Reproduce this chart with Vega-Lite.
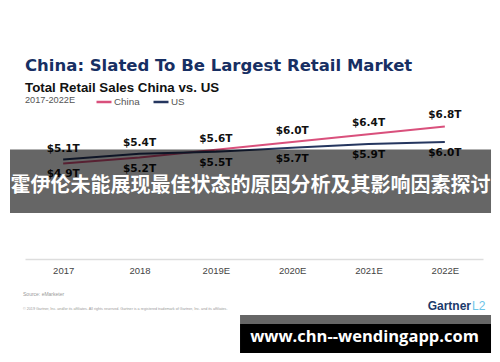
{
  "$schema": "https://vega.github.io/schema/vega-lite/v6.json",
  "width": 458,
  "height": 149,
  "autosize": {"type": "none"},
  "padding": {"left": 25, "top": 110, "right": 17, "bottom": 103},
  "background": "white",
  "config": {"view": {"stroke": null}, "font": "Liberation Sans"},
  "title": {
    "text": "China: Slated To Be Largest Retail Market",
    "subtitle": "Total Retail Sales China vs. US",
    "anchor": "start",
    "frame": "group",
    "font": "DejaVu Sans",
    "fontSize": 16.5,
    "fontWeight": "bold",
    "color": "#172f63",
    "subtitleFont": "Liberation Sans",
    "subtitleFontSize": 13.3,
    "subtitleFontWeight": "bold",
    "subtitleColor": "#111111",
    "subtitlePadding": 6,
    "offset": -1
  },
  "datasets": {
    "sales": [
      {"year": 2017, "series": "China", "value": 4.9, "label": "$4.9T"},
      {"year": 2018, "series": "China", "value": 5.2, "label": "$5.2T"},
      {"year": 2019, "series": "China", "value": 5.6, "label": "$5.6T"},
      {"year": 2020, "series": "China", "value": 6.0, "label": "$6.0T"},
      {"year": 2021, "series": "China", "value": 6.4, "label": "$6.4T"},
      {"year": 2022, "series": "China", "value": 6.8, "label": "$6.8T"},
      {"year": 2017, "series": "US", "value": 5.1, "label": "$5.1T"},
      {"year": 2018, "series": "US", "value": 5.4, "label": "$5.4T"},
      {"year": 2019, "series": "US", "value": 5.5, "label": "$5.5T"},
      {"year": 2020, "series": "US", "value": 5.7, "label": "$5.7T"},
      {"year": 2021, "series": "US", "value": 5.9, "label": "$5.9T"},
      {"year": 2022, "series": "US", "value": 6.0, "label": "$6.0T"}
    ]
  },
  "layer": [
    {
      "data": {"name": "sales"},
      "mark": {"type": "line", "strokeWidth": 2},
      "encoding": {
        "x": {
          "field": "year",
          "type": "quantitative",
          "scale": {"domain": [2016.5, 2022.5], "nice": false, "zero": false},
          "axis": {
            "title": null,
            "values": [2017, 2018, 2019, 2020, 2021, 2022],
            "format": "d",
            "labelExpr": "datum.value >= 2019 ? datum.label + 'E' : datum.label",
            "labelFont": "Liberation Sans",
            "labelFontSize": 9.5,
            "labelColor": "#444444",
            "labelPadding": 6,
            "ticks": false,
            "grid": false,
            "domainColor": "#dddddd",
            "domainWidth": 1.5
          }
        },
        "y": {
          "field": "value",
          "type": "quantitative",
          "scale": {"domain": [0, 7.641], "nice": false, "zero": true},
          "axis": null
        },
        "color": {
          "field": "series",
          "type": "nominal",
          "scale": {"domain": ["China", "US"], "range": ["#d9507c", "#25365f"]},
          "legend": {
            "orient": "none",
            "legendX": 0,
            "legendY": -17,
            "direction": "horizontal",
            "title": "2017-2022E",
            "titleOrient": "left",
            "titleFont": "Liberation Sans",
            "titleFontSize": 9.2,
            "titleFontWeight": "normal",
            "titleColor": "#555555",
            "titlePadding": 19,
            "titleBaseline": "middle",
            "symbolType": "stroke",
            "symbolSize": 225,
            "symbolStrokeWidth": 2.5,
            "labelFont": "Liberation Sans",
            "labelFontSize": 9.8,
            "labelColor": "#555555",
            "labelOffset": 1,
            "columnPadding": 8
          }
        }
      }
    },
    {
      "data": {"name": "sales"},
      "transform": [
        {"joinaggregate": [{"op": "max", "field": "value", "as": "vmax"}], "groupby": ["year"]},
        {"filter": "datum.value == datum.vmax"}
      ],
      "mark": {"type": "text", "font": "DejaVu Sans", "fontWeight": "bold", "fontSize": 10.5, "dy": -11, "color": "#111111", "baseline": "middle"},
      "encoding": {
        "x": {"field": "year", "type": "quantitative"},
        "y": {"field": "value", "type": "quantitative", "axis": null},
        "text": {"field": "label"}
      }
    },
    {
      "data": {"name": "sales"},
      "transform": [
        {"joinaggregate": [{"op": "min", "field": "value", "as": "vmin"}], "groupby": ["year"]},
        {"filter": "datum.value == datum.vmin"}
      ],
      "mark": {"type": "text", "font": "DejaVu Sans", "fontWeight": "bold", "fontSize": 10.5, "dy": 11, "color": "#111111", "baseline": "middle"},
      "encoding": {
        "x": {"field": "year", "type": "quantitative"},
        "y": {"field": "value", "type": "quantitative", "axis": null},
        "text": {"field": "label"}
      }
    },
    {
      "data": {"values": [{"text": "Source: eMarketer"}]},
      "mark": {"type": "text", "fontSize": 5, "color": "#999999", "align": "left", "baseline": "middle"},
      "encoding": {
        "x": {"datum": 2016.474, "type": "quantitative"},
        "y": {"datum": -1.795, "type": "quantitative", "axis": null},
        "text": {"field": "text"}
      }
    },
    {
      "data": {"values": [{"text": "© 2019 Gartner, Inc. and/or its affiliates. All rights reserved. Gartner is a registered trademark of Gartner, Inc. and its affiliates."}]},
      "mark": {"type": "text", "fontSize": 3.7, "color": "#999999", "align": "left", "baseline": "middle"},
      "encoding": {
        "x": {"datum": 2016.474, "type": "quantitative"},
        "y": {"datum": -2.564, "type": "quantitative", "axis": null},
        "text": {"field": "text"}
      }
    },
    {
      "data": {"values": [{"text": "Gartner"}]},
      "mark": {"type": "text", "fontSize": 12, "fontWeight": "bold", "color": "#1b3a6b", "align": "right", "baseline": "middle"},
      "encoding": {
        "x": {"datum": 2022.343, "type": "quantitative"},
        "y": {"datum": -2.41, "type": "quantitative", "axis": null},
        "text": {"field": "text"}
      }
    },
    {
      "data": {"values": [{"text": "L2"}]},
      "mark": {"type": "text", "fontSize": 12, "color": "#6cc4e8", "align": "left", "baseline": "middle"},
      "encoding": {
        "x": {"datum": 2022.356, "type": "quantitative"},
        "y": {"datum": -2.41, "type": "quantitative", "axis": null},
        "text": {"field": "text"}
      }
    },
    {
      "data": {"values": [{"box": "banner"}]},
      "mark": {"type": "rect", "color": "#000000", "opacity": 0.6},
      "encoding": {
        "x": {"datum": 2016.3035, "type": "quantitative"},
        "x2": {"datum": 2022.605},
        "y": {"datum": 5.615, "type": "quantitative", "axis": null},
        "y2": {"datum": 2.359}
      }
    },
    {
      "data": {"values": [{"text": "霍伊伦未能展现最佳状态的原因分析及其影响因素探讨"}]},
      "mark": {"type": "text", "font": "Noto Sans CJK SC", "fontWeight": "bold", "fontSize": 20, "color": "#ffffff", "align": "center", "baseline": "middle"},
      "encoding": {
        "x": {"datum": 2019.454, "type": "quantitative"},
        "y": {"datum": 3.744, "type": "quantitative", "axis": null},
        "text": {"field": "text"}
      }
    },
    {
      "data": {"values": [{"box": "strip"}]},
      "mark": {"type": "rect", "color": "#666666"},
      "encoding": {
        "x": {"datum": 2019.317, "type": "quantitative"},
        "x2": {"datum": 2022.605},
        "y": {"datum": -2.872, "type": "quantitative", "axis": null},
        "y2": {"datum": -3.333}
      }
    },
    {
      "data": {"values": [{"box": "url"}]},
      "mark": {"type": "rect", "color": "#000000"},
      "encoding": {
        "x": {"datum": 2019.317, "type": "quantitative"},
        "x2": {"datum": 2022.605},
        "y": {"datum": -3.333, "type": "quantitative", "axis": null},
        "y2": {"datum": -4.821}
      }
    },
    {
      "data": {"values": [{"text": "www.chn--wendingapp.com"}]},
      "mark": {"type": "text", "font": "Open Sans", "fontWeight": "bold", "fontSize": 16.5, "color": "#ffffff", "align": "center", "baseline": "middle"},
      "encoding": {
        "x": {"datum": 2020.948, "type": "quantitative"},
        "y": {"datum": -4.0, "type": "quantitative", "axis": null},
        "text": {"field": "text"}
      }
    }
  ]
}
